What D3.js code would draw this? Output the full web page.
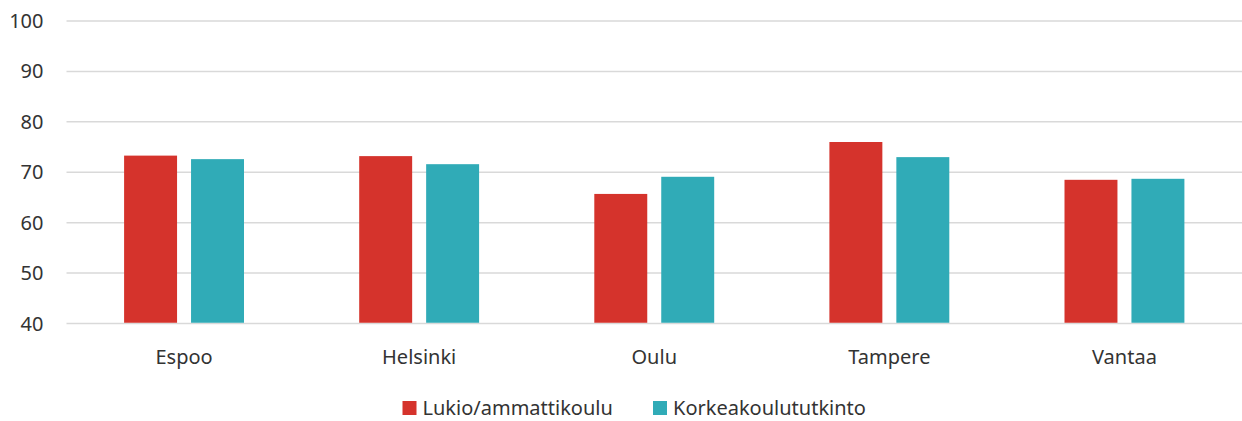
<!DOCTYPE html>
<html>
<head>
<meta charset="utf-8">
<script src="https://cdn.jsdelivr.net/npm/d3@7"></script>
<style>
  body { margin: 0; background: #fff; }
  text { font-family: "Noto Sans", "Open Sans", sans-serif; fill: #333; }
</style>
</head>
<body>
<div id="chart"></div>
<script>
const cities = ['Espoo', 'Helsinki', 'Oulu', 'Tampere', 'Vantaa']
const seriesNames = ['Lukio/ammattikoulu', 'Korkeakoulututkinto']
const lukio = [73.3, 73.2, 65.7, 76.0, 68.5]
const korkea = [72.6, 71.6, 69.1, 73.0, 68.7]
const yTicks = [40, 50, 60, 70, 80, 90, 100]
const colors = ['#d5332c', '#30abb7']

const width = 1242
const height = 421
const margin = { top: 21, right: 0, bottom: 97.5, left: 66.5 }
const innerW = width - margin.left - margin.right
const innerH = height - margin.top - margin.bottom

const svg = d3.select('#chart').append('svg')
  .attr('width', width)
  .attr('height', height)

const g = svg.append('g')
  .attr('transform', `translate(${margin.left}, ${margin.top})`)

const x0 = d3.scaleBand(cities, [0, innerW]).paddingInner(0.49).paddingOuter(0.245)
const x1 = d3.scaleBand(seriesNames, [0, x0.bandwidth()]).paddingInner(0.209)
const y = d3.scaleLinear([40, 100], [innerH, 0])

// gridlines
g.append('g')
  .selectAll('line')
  .data(yTicks)
  .join('line')
  .attr('x1', 0)
  .attr('x2', innerW)
  .attr('y1', d => y(d))
  .attr('y2', d => y(d))
  .attr('stroke', '#d9d9d9')
  .attr('stroke-width', 1.5)

// y labels
g.append('g')
  .selectAll('text')
  .data(yTicks)
  .join('text')
  .attr('x', -23)
  .attr('y', d => y(d))
  .attr('dy', '0.35em')
  .attr('text-anchor', 'end')
  .style('font-size', '20px')
  .text(d => d)

const rows = cities.map((c, i) => ({ city: c, values: [lukio[i], korkea[i]] }))

const groups = g.append('g')
  .selectAll('g')
  .data(rows)
  .join('g')
  .attr('transform', d => `translate(${x0(d.city)}, 0)`)

groups.selectAll('rect')
  .data(d => d.values.map((v, j) => ({ key: seriesNames[j], value: v, j })))
  .join('rect')
  .attr('x', d => x1(d.key))
  .attr('y', d => y(d.value))
  .attr('width', x1.bandwidth())
  .attr('height', d => y(40) - y(d.value) - 0.75)
  .attr('fill', d => colors[d.j])

// x labels
g.append('g')
  .selectAll('text')
  .data(cities)
  .join('text')
  .attr('x', d => x0(d) + x0.bandwidth() / 2)
  .attr('y', innerH + 40)
  .attr('text-anchor', 'middle')
  .style('font-size', '20px')
  .text(d => d)

// legend
const legend = svg.append('g')
const legendX = [402.5, 653]
seriesNames.forEach((name, i) => {
  const item = legend.append('g').attr('transform', `translate(${legendX[i]}, 401)`)
  item.append('rect')
    .attr('width', 14)
    .attr('height', 14)
    .attr('fill', colors[i])
  item.append('text')
    .attr('x', 20)
    .attr('y', 7)
    .attr('dy', '0.35em')
    .style('font-size', '20px')
    .text(name)
})
</script>
</body>
</html>
